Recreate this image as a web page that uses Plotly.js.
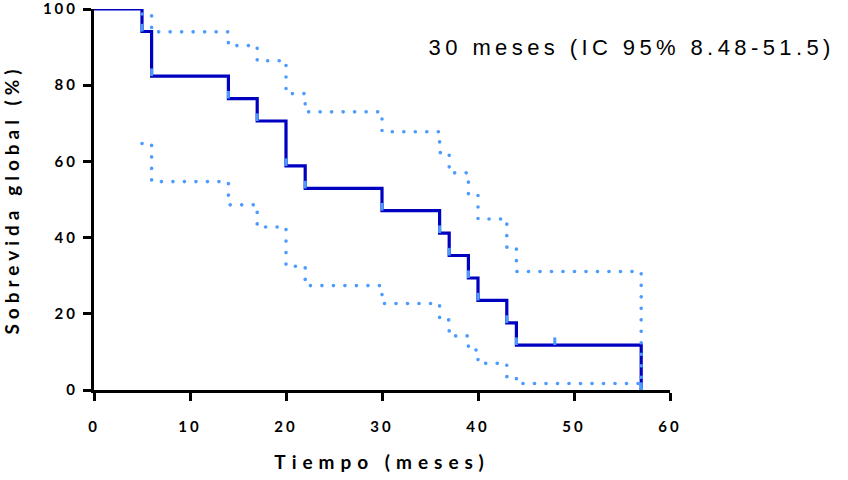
<!DOCTYPE html>
<html>
<head>
<meta charset="utf-8">
<script src="https://cdn.plot.ly/plotly-3.0.1.min.js"></script>
<style>
  html, body { margin: 0; padding: 0; background: #fff; }
  #chart { width: 848px; height: 480px; }
  #chart .xtick text, #chart .ytick text { letter-spacing: 3px; }
  #chart .g-xtitle text { letter-spacing: 6px; }
  #chart .g-ytitle text { letter-spacing: 5px; }
  #chart .annotation-text { letter-spacing: 4.4px; }
  #chart .scatterlayer .trace:nth-child(n+3) path.js-line { stroke-linecap: round; }
</style>
</head>
<body>
<div id="chart"></div>
<script>
// Kaplan-Meier estimate (event times in months, survival in %)
const eventTimes = [0, 5, 6, 14, 17, 20, 22, 30, 36, 37, 39, 40, 43, 44, 57];
const survival   = [100, 94.1, 82.4, 76.5, 70.6, 58.8, 52.9, 47.1, 41.2, 35.3, 29.4, 23.5, 17.6, 11.8, 0];

// Censored observations
const censorTimes  = [48];
const censorValues = [11.8];

// 95% confidence band
const ciTimes = [5, 6, 14, 17, 20, 22, 30, 36, 37, 39, 40, 43, 44, 57];
const ciUpper = [98.7, 94.0, 90.4, 86.4, 77.8, 73.0, 67.8, 62.3, 57.0, 51.3, 44.9, 37.5, 31.1, 0];
const ciLower = [64.7, 54.7, 48.6, 42.8, 32.5, 27.4, 22.7, 18.4, 14.2, 10.5, 7.0, 3.5, 1.7, 0];

const xTicks = [0, 10, 20, 30, 40, 50, 60];
const yTicks = [0, 20, 40, 60, 80, 100];
const medianText = '30 meses (IC 95% 8.48-51.5)';

const darkBlue = '#0000C0';
const lightBlue = '#4C9BFF';
const tickHeight = 2; // survival units, mark height

// symbol marks at each event / censor (short vertical strokes)
const markX = [], markY = [];
for (let i = 1; i < eventTimes.length; i++) {
  markX.push(eventTimes[i], eventTimes[i], null);
  markY.push(survival[i], survival[i] + tickHeight, null);
}
for (let i = 0; i < censorTimes.length; i++) {
  markX.push(censorTimes[i], censorTimes[i], null);
  markY.push(censorValues[i], censorValues[i] + tickHeight, null);
}

const traces = [
  { x: eventTimes, y: survival, mode: 'lines', line: { shape: 'hv', color: darkBlue, width: 3.2 }, hoverinfo: 'skip' },
  { x: markX, y: markY, mode: 'lines', line: { color: lightBlue, width: 3 }, connectgaps: false, hoverinfo: 'skip' },
  { x: ciTimes, y: ciUpper, mode: 'lines', line: { shape: 'hv', color: lightBlue, width: 3.6, dash: '0.1px,11.4px' }, hoverinfo: 'skip' },
  { x: ciTimes, y: ciLower, mode: 'lines', line: { shape: 'hv', color: lightBlue, width: 3.6, dash: '0.1px,11.4px' }, hoverinfo: 'skip' }
];

const tickFont = { family: 'Lato, sans-serif', size: 15, color: '#000', weight: 700 };
const titleFont = { family: 'Lato, sans-serif', size: 19, color: '#000', weight: 700 };

const layout = {
  width: 848, height: 480,
  margin: { l: 94, r: 178, t: 9, b: 90 },
  paper_bgcolor: '#fff', plot_bgcolor: '#fff',
  showlegend: false,
  xaxis: {
    range: [0, 60], tickvals: xTicks, ticktext: xTicks.map(String),
    showgrid: false, zeroline: false,
    showline: true, linecolor: '#000', linewidth: 3,
    ticks: 'outside', ticklen: 8, tickwidth: 3, tickcolor: '#000',
    ticklabelstandoff: 13, ticklabeloverflow: 'allow',
    tickfont: tickFont,
    title: { text: 'Tiempo (meses)', font: titleFont, standoff: 22 },
    automargin: false
  },
  yaxis: {
    range: [0, 100], tickvals: yTicks, ticktext: yTicks.map(String),
    showgrid: false, zeroline: false,
    showline: true, linecolor: '#000', linewidth: 3,
    ticks: 'outside', ticklen: 8, tickwidth: 3, tickcolor: '#000',
    ticklabelstandoff: 2, ticklabeloverflow: 'allow',
    tickfont: tickFont,
    title: { text: 'Sobrevida global (%)', font: titleFont, standoff: 30 },
    automargin: false
  },
  annotations: [{
    text: medianText, xref: 'paper', yref: 'paper',
    x: 0.934, y: 0.900, xanchor: 'center', yanchor: 'middle',
    showarrow: false,
    font: { family: 'Liberation Sans, Arial, sans-serif', size: 22, color: '#000' }
  }]
};

Plotly.newPlot('chart', traces, layout, { staticPlot: true, displayModeBar: false });
</script>
</body>
</html>
